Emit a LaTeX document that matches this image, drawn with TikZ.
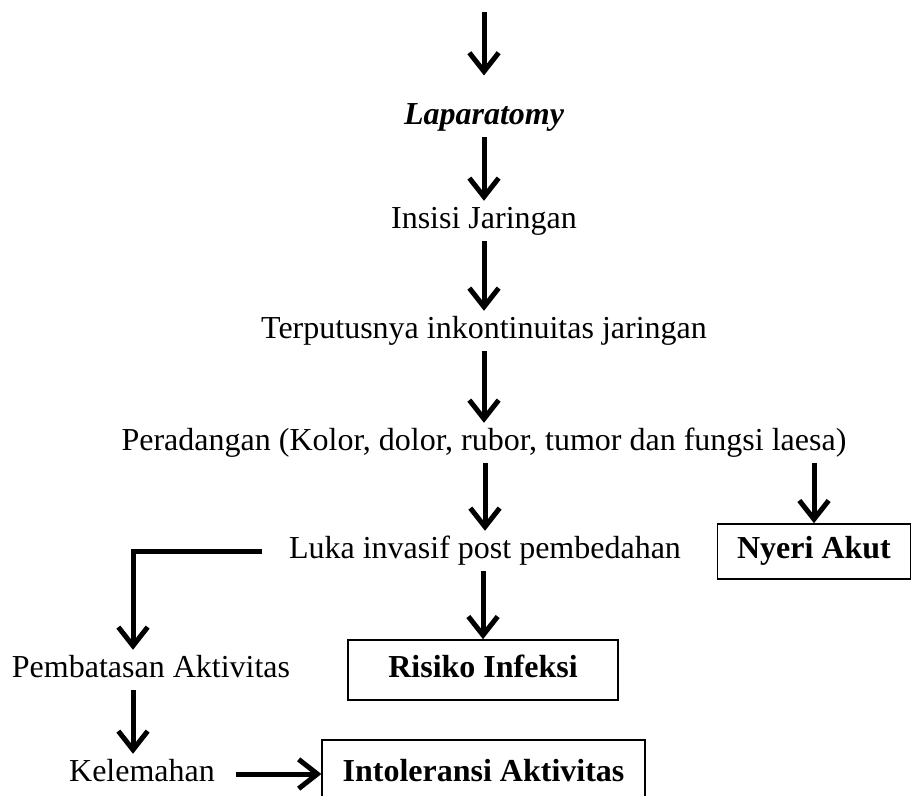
\documentclass[tikz,border=0pt]{standalone}
\usepackage{fontspec}
\setmainfont{Liberation Serif}
\usetikzlibrary{arrows.meta}
\begin{document}
\begin{tikzpicture}[x=0.75pt,y=-0.75pt,
        txt/.style={font=\fontsize{24}{28}\selectfont,inner sep=0pt,
            text height=16.8pt,text depth=6pt,outer ysep=3.75pt},
        box/.style={draw,line width=1.2pt,
            font=\fontsize{24}{28}\selectfont\bfseries,
            text height=16.8pt,text depth=6pt,inner sep=0pt},
        arr/.style={line width=3.75pt,
            -{Straight Barb[length=14pt,width=22pt]}}]
\clip (0,0) rectangle (914,796);

\coordinate (top) at (484,12);
\coordinate (lcol) at (133,0);

\node[txt,font=\fontsize{24}{28}\selectfont\bfseries\itshape] (lap) at (484,117) {Laparatomy};
\node[txt] (insisi) at (484,221) {Insisi Jaringan};
\node[txt] (putus) at (484,331) {Terputusnya inkontinuitas jaringan};
\node[txt] (radang) at (484,443) {Peradangan (Kolor, dolor, rubor, tumor dan fungsi laesa)};
\node[txt] (luka) at (485,551) {Luka invasif post pembedahan};
\node[txt] (batas) at (151,670) {Pembatasan Aktivitas};
\node[txt] (lemah) at (142,774) {Kelemahan};

\node[box,minimum width=145pt,minimum height=41.25pt] (nyeri) at (814,551.5) {Nyeri Akut};
\node[box,minimum width=202.5pt,minimum height=45pt] (infeksi) at (483,670) {Risiko Infeksi};
\node[box,minimum width=242pt,minimum height=51pt] (intol) at (483.5,774) {Intoleransi Aktivitas};

\draw[arr,shorten >=16pt] (top) -- (lap.north);
\draw[arr] (lap) -- (insisi);
\draw[arr] (insisi) -- (putus);
\draw[arr] (putus) -- (radang);
\draw[arr] (radang.south -| luka.north) -- (luka.north);
\draw[arr] (radang.south -| nyeri.north) -- (nyeri.north);
\draw[arr] (luka.south -| infeksi.north) -- (infeksi.north);
\draw[arr,shorten <=20pt] (luka.west) -| (lcol |- batas.north);
\draw[arr] (lcol |- batas.south) -- (lcol |- lemah.north);
\draw[arr,shorten <=16pt] (lemah.east) -- (intol.west);

\end{tikzpicture}
\end{document}
